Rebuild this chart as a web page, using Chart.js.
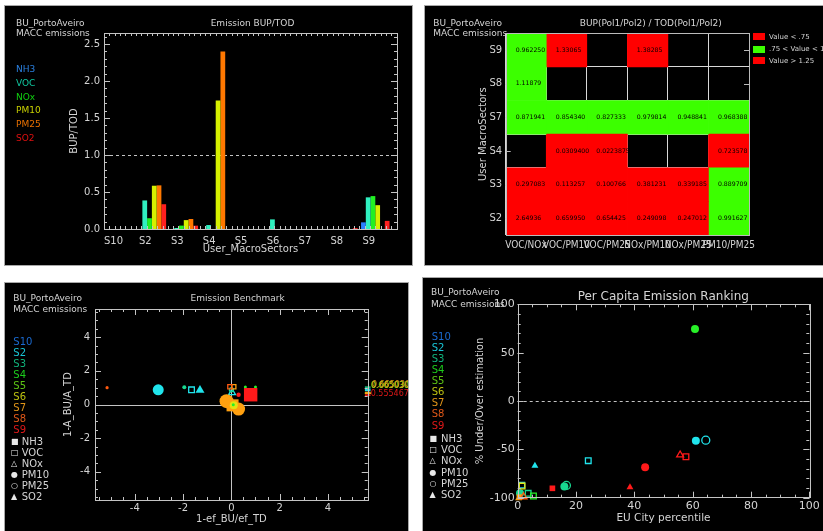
<!DOCTYPE html>
<html lang="en">
<head>
<meta charset="utf-8">
<title>BU_PortoAveiro - MACC emissions</title>
<script src="https://cdn.jsdelivr.net/npm/chart.js@4.4.1/dist/chart.umd.min.js"></script>
<style>
  html, body { margin: 0; padding: 0; background: #fff; }
  body { width: 823px; height: 531px; position: relative; overflow: hidden; font-family: "DejaVu Sans", sans-serif; }
  .panel { position: absolute; box-sizing: border-box; background: #000; border: 1px solid #a8a8a8; overflow: hidden; }
  .panel canvas { position: absolute; left: 0; top: 0; }
  .txt { position: absolute; white-space: nowrap; line-height: 1; color: #d4d4d4; font-size: 9px; transform: translateY(-50%); }
  .txt.c { transform: translate(-50%, -50%); }
  .box { position: absolute; }
</style>
</head>
<body>
<div class="panel" id="p1" style="left:4px;top:5px;width:409px;height:261px;"><canvas id="c1" width="407" height="259"></canvas></div>
<div class="panel" id="p2" style="left:424px;top:5px;width:410px;height:261px;"><canvas id="c2" width="398" height="259"></canvas></div>
<div class="panel" id="p3" style="left:4px;top:282px;width:405px;height:260px;"><canvas id="c3" width="403" height="248"></canvas></div>
<div class="panel" id="p4" style="left:422px;top:277px;width:410px;height:260px;"><canvas id="c4" width="400" height="253"></canvas></div>

<script>
// ---------- shared categories ----------
const sectors = ['S10', 'S2', 'S3', 'S4', 'S5', 'S6', 'S7', 'S8', 'S9'];
const pollutants = ['NH3', 'VOC', 'NOx', 'PM10', 'PM25', 'SO2'];

// ---------- Emission BUP/TOD (one value per sector) ----------
const bupTodNH3  = [0, 0,      0,      0,      0, 0,    0, 0,     0.090];
const bupTodVOC  = [0, 0.386,  0.0136, 0.0537, 0, 0.13, 0, 0,     0.428];
const bupTodNOx  = [0, 0.1457, 0.0458, 0,      0, 0,    0, 0,     0.445];
const bupTodPM10 = [0, 0.585,  0.120,  1.737,  0, 0,    0, 0,     0.322];
const bupTodPM25 = [0, 0.590,  0.135,  2.400,  0, 0,    0, 0,     0];
const bupTodSO2  = [0, 0.335,  0.045,  0,      0, 0,    0, 0.012, 0.110];
const bupTodTicks = [0, 0.5, 1.0, 1.5, 2.0, 2.5];

// ---------- BUP(Pol1/Pol2) / TOD(Pol1/Pol2) ----------
const ratioCols = ['VOC/NOx', 'VOC/PM10', 'VOC/PM25', 'NOx/PM10', 'NOx/PM25', 'PM10/PM25'];
const ratioRows = ['S9', 'S8', 'S7', 'S4', 'S3', 'S2'];
const ratioS9 = [0.962250, 1.33065, null, 1.38285, null, null];
const ratioS8 = [1.11879, null, null, null, null, null];
const ratioS7 = [0.871941, 0.854340, 0.827333, 0.979814, 0.948841, 0.968388];
const ratioS4 = [null, 0.0309400, 0.0223875, null, null, 0.723578];
const ratioS3 = [0.297083, 0.113257, 0.100766, 0.381231, 0.339185, 0.889709];
const ratioS2 = [2.64936, 0.659950, 0.654425, 0.249098, 0.247012, 0.991627];
const ratioLegend = ['Value < .75', '.75 < Value < 1.25', 'Value > 1.25'];

// ---------- Emission Benchmark ----------
const benchS2 = [{pol: 'PM10', x: -3.03, y: 0.87}, {pol: 'VOC', x: -1.65, y: 0.87}, {pol: 'SO2', x: -1.30, y: 0.85}, {pol: 'NOx', x: 0.03, y: 0.70}];
const benchS3 = [{pol: 'PM10', x: -1.95, y: 1.03}, {pol: 'PM25', x: 0.00, y: 0.88}];
const benchS4 = [{pol: 'PM10', x: 0.08, y: -0.02}, {pol: 'PM10', x: 0.58, y: 1.04}, {pol: 'PM10', x: 1.00, y: 1.04}];
const benchS6 = [{pol: 'PM10', x: 0.10, y: -0.05}];
const benchS7 = [{pol: 'PM10', x: -0.20, y: 0.20}, {pol: 'NH3', x: 0.05, y: -0.05}, {pol: 'PM10', x: 0.30, y: -0.27}, {pol: 'VOC', x: 0.10, y: 1.05}];
const benchS8 = [{pol: 'PM10', x: -5.15, y: 1.00}, {pol: 'VOC', x: -0.06, y: 1.05}];
const benchS9 = [{pol: 'NH3', x: 0.80, y: 0.58}, {pol: 'PM10', x: 0.30, y: 0.58}];
// points beyond the x range, pinned to the right border
const benchEdgeSector = ['S3', 'S2', 'S2', 'S8', 'S5', 'S6', 'S7', 'S9'];
const benchEdgeY = [1.03, 0.91, 0.83, 0.71, 0.665030, 0.665030, 0.665030, 0.555467];
const benchTicks = [-4, -2, 0, 2, 4];
const benchXMax = 5.65, benchYMax = 5.67;

// ---------- Per Capita Emission Ranking ----------
const rankS2 = [{pol: 'PM10', x: 61.1, y: -41.0}, {pol: 'PM25', x: 64.5, y: -40.5}, {pol: 'VOC', x: 24.2, y: -61.7}, {pol: 'SO2', x: 5.9, y: -66.9}, {pol: 'VOC', x: 1.4, y: -87.0}];
const rankS3 = [{pol: 'PM10', x: 16.0, y: -88.5}, {pol: 'PM25', x: 16.7, y: -87.3}, {pol: 'VOC', x: 3.6, y: -95.5}, {pol: 'PM10', x: 0.8, y: -95.5}];
const rankS4 = [{pol: 'PM10', x: 60.8, y: 74.5}, {pol: 'VOC', x: 5.4, y: -98.2}];
const rankS6 = [{pol: 'VOC', x: 1.5, y: -88.0}];
const rankS7 = [{pol: 'SO2', x: 0.3, y: -100.5}, {pol: 'NH3', x: 0.6, y: -99.5}];
const rankS8 = [{pol: 'NOx', x: 2.0, y: -99.0}];
const rankS9 = [{pol: 'NOx', x: 55.7, y: -55.8}, {pol: 'VOC', x: 57.7, y: -57.6}, {pol: 'PM10', x: 43.7, y: -68.6}, {pol: 'SO2', x: 38.5, y: -89.3}, {pol: 'NH3', x: 11.9, y: -90.3}];
const rankXTicks = [0, 20, 40, 60, 80, 100];
const rankYTicks = [-100, -50, 0, 50, 100];

// ---------- styling ----------
const INK = '#d4d4d4';
const FRAME = '#c4c4c4';
const NARROW = '"Liberation Sans Narrow", "DejaVu Sans Condensed", "DejaVu Sans", sans-serif';
const barColors = ['#2a7fff', '#30f0c0', '#22f022', '#d6f000', '#ff7800', '#ff2020'];
const polText = ['#2a80e0', '#10c8a0', '#10d010', '#c8d000', '#e87000', '#e01010'];
const sectorText = {S10: '#1a6ad0', S2: '#18c4d4', S3: '#10b27a', S4: '#1ccc1c', S5: '#5cc414', S6: '#bcc010', S7: '#e09418', S8: '#e05818', S9: '#e01818'};
const sectorMark = {S10: '#2070ff', S2: '#20e4ec', S3: '#18d890', S4: '#28f028', S5: '#70e010', S6: '#e4e410', S7: '#ffa010', S8: '#ff5a10', S9: '#ff1a1a'};
const polShape = {
  NH3: {style: 'rect', filled: true}, VOC: {style: 'rect', filled: false}, NOx: {style: 'triangle', filled: false},
  PM10: {style: 'circle', filled: true}, PM25: {style: 'circle', filled: false}, SO2: {style: 'triangle', filled: true}
};
const polGlyph = {NH3: '\u25A0', VOC: '\u25A1', NOx: '\u25B3', PM10: '\u25CF', PM25: '\u25CB', SO2: '\u25B2'};
const benchRadius = {S2: [5.5, 4, 5.2, 4], S3: [2, 2], S4: [1.5, 1.5, 1.5], S6: [4], S7: [7, 8.5, 6.5, 3], S8: [1.6, 3], S9: [9.5, 2.2]};
const rankRadius = 4;

Chart.defaults.font.family = '"DejaVu Sans", sans-serif';
Chart.defaults.color = INK;
Chart.defaults.animation = false;

const range = (a, b, s) => { const out = []; for (let v = a; v <= b + 1e-9; v += s) out.push(+v.toFixed(6)); return out; };

// ---------- plugins ----------
function drawIdlTicks(chart, o) {
  const {ctx, chartArea: a} = chart;
  const xs = chart.scales.x, ys = chart.scales.y;
  ctx.save();
  ctx.strokeStyle = o.color || FRAME;
  ctx.lineWidth = 1;
  ctx.beginPath();
  const put = (list, len, scale, horiz) => (list || []).forEach(v => {
    const p = Math.round(scale.getPixelForValue(v)) + 0.5;
    if (horiz) {
      ctx.moveTo(p, a.bottom); ctx.lineTo(p, a.bottom - len);
      ctx.moveTo(p, a.top); ctx.lineTo(p, a.top + len);
    } else {
      ctx.moveTo(a.left, p); ctx.lineTo(a.left + len, p);
      ctx.moveTo(a.right, p); ctx.lineTo(a.right - len, p);
    }
  });
  put(o.xMajor, o.majorLen || 6, xs, true);
  put(o.xMinor, o.minorLen || 3, xs, true);
  put(o.yMajor, o.majorLen || 6, ys, false);
  put(o.yMinor, o.minorLen || 3, ys, false);
  ctx.stroke();
  ctx.restore();
}

const idlFrame = {
  id: 'idlFrame',
  beforeDatasetsDraw(chart, args, o) {
    const {ctx, chartArea: a} = chart;
    const xs = chart.scales.x, ys = chart.scales.y;
    ctx.save();
    ctx.strokeStyle = o.color || FRAME;
    ctx.lineWidth = 1;
    (o.refLines || []).forEach(r => {
      ctx.setLineDash(r.dash || []);
      ctx.beginPath();
      if (r.axis === 'y') {
        const p = Math.round(ys.getPixelForValue(r.value)) + 0.5;
        ctx.moveTo(a.left, p); ctx.lineTo(a.right, p);
      } else {
        const p = Math.round(xs.getPixelForValue(r.value)) + 0.5;
        ctx.moveTo(p, a.top); ctx.lineTo(p, a.bottom);
      }
      ctx.stroke();
    });
    ctx.restore();
    if (o.ticksUnder) drawIdlTicks(chart, o);
  },
  afterDatasetsDraw(chart, args, o) {
    if (!o.ticksUnder) drawIdlTicks(chart, o);
    if (o.box === false) return;
    const {ctx, chartArea: a} = chart;
    ctx.save();
    ctx.strokeStyle = o.color || FRAME;
    ctx.lineWidth = 1;
    ctx.strokeRect(Math.round(a.left) + 0.5, Math.round(a.top) + 0.5, Math.round(a.right - a.left), Math.round(a.bottom - a.top));
    ctx.restore();
  }
};

// values written inside heatmap cells
const cellText = {
  id: 'cellText',
  afterDatasetsDraw(chart, args, o) {
    const ctx = chart.ctx;
    ctx.save();
    ctx.font = o.font;
    ctx.fillStyle = o.color;
    ctx.textAlign = 'left';
    ctx.textBaseline = 'middle';
    chart.data.datasets.forEach((ds, j) => {
      chart.getDatasetMeta(j).data.forEach((el, i) => {
        const v = ds.cellValues[i];
        if (v == null) return;
        ctx.fillText(v.toPrecision(6), Math.min(el.x, el.base) + o.inset, el.y);
      });
    });
    ctx.restore();
  }
};

// value labels for the points pinned to the right border
const edgeLabels = {
  id: 'edgeLabels',
  afterDatasetsDraw(chart, args, o) {
    const ctx = chart.ctx, a = chart.chartArea, ys = chart.scales.y;
    ctx.save();
    ctx.font = o.font;
    ctx.textAlign = 'left';
    ctx.textBaseline = 'middle';
    const items = o.items.map(it => ({...it, py: ys.getPixelForValue(it.y)})).sort((p, q) => q.py - p.py);
    let prev = null, shift = 0;
    items.forEach(it => {
      let ty = it.py - 1;
      if (prev !== null && Math.abs(it.y - prev.y) > 1e-9) ty = Math.min(ty, prev.ty - o.gap);
      else if (prev !== null) { ty = prev.ty; shift += 0.6; }
      ctx.fillStyle = it.color;
      ctx.fillText(it.y.toFixed(6), a.right + o.dx + shift, ty - shift * 0.5);
      it.ty = ty;
      prev = it;
    });
    ctx.restore();
  }
};

// ---------- text helpers ----------
function addText(panel, str, x, y, opt = {}) {
  const d = document.createElement('div');
  d.className = 'txt' + (opt.center ? ' c' : '');
  d.textContent = str;
  d.style.left = x + 'px';
  d.style.top = y + 'px';
  if (opt.size) d.style.fontSize = opt.size + 'px';
  if (opt.color) d.style.color = opt.color;
  document.getElementById(panel).appendChild(d);
}
function addBox(panel, x, y, w, h, color) {
  const d = document.createElement('div');
  d.className = 'box';
  Object.assign(d.style, {left: x + 'px', top: y + 'px', width: w + 'px', height: h + 'px', background: color});
  document.getElementById(panel).appendChild(d);
}
function header(panel, x, y1, y2) {
  addText(panel, 'BU_PortoAveiro', x, y1);
  addText(panel, 'MACC emissions', x, y2);
}

const baseOpts = (padding) => ({
  responsive: false,
  animation: false,
  devicePixelRatio: 1,
  layout: {padding},
  plugins: {legend: {display: false}, tooltip: {enabled: false}}
});

// ================= Panel 1: Emission BUP/TOD =================
header('p1', 11, 16.7, 27.3);
addText('p1', 'Emission BUP/TOD', 247.5, 16.7, {center: true});
pollutants.forEach((p, k) => addText('p1', p, 11, 62.7 + 13.9 * k, {color: polText[k]}));

const bupTod = [bupTodNH3, bupTodVOC, bupTodNOx, bupTodPM10, bupTodPM25, bupTodSO2];
new Chart(document.getElementById('c1'), {
  type: 'bar',
  data: {
    datasets: pollutants.map((p, k) => ({
      label: p,
      data: bupTod[k].map((v, i) => ({x: i, y: v})),
      backgroundColor: barColors[k],
      borderWidth: 0,
      categoryPercentage: 0.893,
      barPercentage: 1.0
    }))
  },
  options: {
    ...baseOpts({left: 0, top: 27, right: 15, bottom: 0}),
    plugins: {
      legend: {display: false}, tooltip: {enabled: false},
      idlFrame: {
        refLines: [{axis: 'y', value: 1.0, dash: [3, 3]}],
        yMajor: bupTodTicks, yMinor: range(0, 2.6, 0.1), majorLen: 6, minorLen: 3,
        xMinor: range(-0.5, 8.68, 1 / 6.0)
      }
    },
    scales: {
      x: {
        type: 'linear', offset: false, min: -0.5, max: 8.68,
        grid: {display: false, drawTicks: false}, border: {display: false},
        afterBuildTicks: s => { s.ticks = sectors.map((_, i) => ({value: i})); },
        ticks: {callback: v => sectors[v], autoSkip: false, maxRotation: 0, padding: 6, labelOffset: -6.5, font: {size: 10}, color: INK},
        title: {display: true, text: 'User_MacroSectors', font: {size: 10}, color: INK, padding: {top: 0, bottom: 9.7}},
        afterFit: s => { s.height = 36; }
      },
      y: {
        min: 0, max: 2.65,
        grid: {display: false, drawTicks: false}, border: {display: false},
        afterBuildTicks: s => { s.ticks = bupTodTicks.map(v => ({value: v})); },
        ticks: {callback: v => v.toFixed(1), padding: 4, font: {size: 10}, color: INK},
        title: {display: true, text: 'BUP/TOD', font: {size: 10}, color: INK, padding: {top: 63.7, bottom: 0}},
        afterFit: s => { s.width = 99; }
      }
    }
  },
  plugins: [idlFrame]
});

// ================= Panel 2: ratio heatmap =================
header('p2', 8.3, 17.3, 27.3);
addText('p2', 'BUP(Pol1/Pol2) / TOD(Pol1/Pol2)', 225.7, 16.7, {center: true});
const legendColors = ['#ff0000', '#3cff00', '#ff0000'];
ratioLegend.forEach((t, k) => {
  const top = [27.3, 39.7, 51.3][k];
  addBox('p2', 328.3, top, 11.7, 7.2, legendColors[k]);
  addText('p2', t, 344, top + 3.6, {size: 7});
});

const ratioData = [ratioS9, ratioS8, ratioS7, ratioS4, ratioS3, ratioS2];
const cellColor = v => (v < 0.75 || v > 1.25) ? '#ff0000' : '#3cff00';
new Chart(document.getElementById('c2'), {
  type: 'bar',
  data: {
    labels: ratioRows,
    datasets: ratioCols.map((c, j) => ({
      label: c,
      data: ratioData.map(r => r[j] == null ? null : [j, j + 1]),
      cellValues: ratioData.map(r => r[j]),
      backgroundColor: ratioData.map(r => r[j] == null ? 'rgba(0,0,0,0)' : cellColor(r[j])),
      borderWidth: 0,
      barPercentage: 1,
      categoryPercentage: 1,
      grouped: false
    }))
  },
  options: {
    ...baseOpts({left: 0, top: 27.3, right: 74, bottom: 0}),
    indexAxis: 'y',
    plugins: {
      legend: {display: false}, tooltip: {enabled: false},
      cellText: {font: '6.2px "DejaVu Sans", sans-serif', color: '#000', inset: 9.5},
      idlFrame: {ticksUnder: true, yMajor: ratioRows.map((_, i) => i), majorLen: 5, color: '#bbbbbb'}
    },
    scales: {
      x: {
        type: 'linear', min: 0, max: 6, z: 1,
        grid: {color: '#d8d8d8', drawTicks: false}, border: {display: false},
        afterBuildTicks: s => { s.ticks = range(0, 6, 1).map(v => ({value: v})); },
        ticks: {callback: v => ratioCols[v] || '', autoSkip: false, maxRotation: 0, padding: 4.7, labelOffset: 20.3, font: {family: NARROW, size: 10}, color: INK},
        afterFit: s => { s.height = 30; }
      },
      y: {
        type: 'category', z: 1,
        grid: {offset: true, color: '#d8d8d8', drawTicks: false}, border: {display: false},
        ticks: {padding: 3.5, font: {size: 10}, color: INK},
        title: {display: true, text: 'User MacroSectors', font: {size: 10}, color: INK, padding: {top: 52.3, bottom: 0}},
        afterFit: s => { s.width = 80.7; }
      }
    }
  },
  plugins: [idlFrame, cellText]
});

// ================= Panel 3: Emission Benchmark =================
header('p3', 8.3, 15.3, 26);
addText('p3', 'Emission Benchmark', 232.7, 15.3, {center: true});
sectors.forEach((s, i) => addText('p3', s, 8.3, 58.7 + 11 * i, {size: 10, color: sectorText[s]}));
pollutants.forEach((p, i) => {
  addText('p3', polGlyph[p], 6, 158.7 + 11 * i, {size: 8, color: '#e8e8e8'});
  addText('p3', p, 16.7, 158.7 + 11 * i, {size: 10, color: INK});
});

function markerSets(groups, radiusOf) {
  const sets = [];
  groups.forEach(([sec, pts]) => pts.forEach((p, i) => {
    const st = polShape[p.pol];
    const col = sectorMark[sec];
    sets.push({
      label: sec + ' ' + p.pol,
      data: [{x: p.x, y: p.y}],
      pointStyle: st.style,
      pointRadius: radiusOf(sec, i),
      backgroundColor: st.filled ? col : 'rgba(0,0,0,0)',
      borderColor: col,
      borderWidth: st.filled ? 0 : 1.3,
      clip: false
    });
  }));
  return sets.reverse();
}

const benchGroups = [['S2', benchS2], ['S3', benchS3], ['S7', benchS7], ['S6', benchS6], ['S4', benchS4], ['S8', benchS8], ['S9', benchS9]];
const benchSets = markerSets(benchGroups, (sec, i) => benchRadius[sec][i]);
benchSets.push({
  label: 'pinned',
  data: benchEdgeY.map(y => ({x: benchXMax, y})),
  pointStyle: 'line',
  pointRadius: 2.8,
  borderColor: benchEdgeSector.map(s => sectorMark[s]),
  borderWidth: 1.5,
  clip: false
});

new Chart(document.getElementById('c3'), {
  type: 'scatter',
  data: {datasets: benchSets},
  options: {
    ...baseOpts({left: 0, top: 26, right: 40.3, bottom: 0}),
    plugins: {
      legend: {display: false}, tooltip: {enabled: false},
      idlFrame: {
        refLines: [{axis: 'x', value: 0}, {axis: 'y', value: 0}],
        xMajor: benchTicks, xMinor: range(-5.5, 5.5, 0.5), yMajor: benchTicks, yMinor: range(-5.5, 5.5, 0.5), majorLen: 6, minorLen: 3
      },
      edgeLabels: {
        font: '8px "DejaVu Sans", sans-serif', dx: 3, gap: 8.3,
        items: benchEdgeY.map((y, i) => ({y, color: sectorText[benchEdgeSector[i]]})).filter((it, i) => i >= 4)
      }
    },
    scales: {
      x: {
        type: 'linear', min: -benchXMax, max: benchXMax,
        grid: {display: false, drawTicks: false}, border: {display: false},
        afterBuildTicks: s => { s.ticks = benchTicks.map(v => ({value: v})); },
        ticks: {padding: 2.3, font: {size: 10}, color: INK},
        title: {display: true, text: '1-ef_BU/ef_TD', font: {size: 10}, color: INK, padding: {top: 0, bottom: 5.7}},
        afterFit: s => { s.height = 31; }
      },
      y: {
        type: 'linear', min: -benchYMax, max: benchYMax,
        grid: {display: false, drawTicks: false}, border: {display: false},
        afterBuildTicks: s => { s.ticks = benchTicks.map(v => ({value: v})); },
        ticks: {padding: 5, font: {size: 10}, color: INK},
        title: {display: true, text: '1-A_BU/A_TD', font: {size: 10}, color: INK, padding: {top: 57.3, bottom: 0}},
        afterFit: s => { s.width = 90; }
      }
    }
  },
  plugins: [idlFrame, edgeLabels]
});

// ================= Panel 4: Per Capita Emission Ranking =================
header('p4', 8, 13.7, 26.3);
addText('p4', 'Per Capita Emission Ranking', 240.3, 17.7, {center: true, size: 12});
sectors.forEach((s, i) => addText('p4', s, 8.7, 58.7 + 11.1 * i, {size: 10, color: sectorText[s]}));
pollutants.forEach((p, i) => {
  addText('p4', polGlyph[p], 6.5, 161 + 11.2 * i, {size: 8, color: '#e8e8e8'});
  addText('p4', p, 18, 161 + 11.2 * i, {size: 10, color: INK});
});

const rankGroups = [['S2', rankS2], ['S3', rankS3], ['S4', rankS4], ['S6', rankS6], ['S7', rankS7], ['S8', rankS8], ['S9', rankS9]];
new Chart(document.getElementById('c4'), {
  type: 'scatter',
  data: {datasets: markerSets(rankGroups, () => rankRadius)},
  options: {
    ...baseOpts({left: 0, top: 26.3, right: 13.7, bottom: 0}),
    plugins: {
      legend: {display: false}, tooltip: {enabled: false},
      idlFrame: {
        refLines: [{axis: 'y', value: 0, dash: [3, 3]}],
        xMajor: rankXTicks, xMinor: range(0, 100, 5), yMajor: rankYTicks, yMinor: range(-100, 100, 10), majorLen: 6, minorLen: 3
      }
    },
    scales: {
      x: {
        type: 'linear', min: 0, max: 100,
        grid: {display: false, drawTicks: false}, border: {display: false},
        afterBuildTicks: s => { s.ticks = rankXTicks.map(v => ({value: v})); },
        ticks: {padding: 1.7, font: {size: 11}, color: INK},
        title: {display: true, text: 'EU City percentile', font: {size: 10.5}, color: INK, padding: {top: 0, bottom: 6.7}},
        afterFit: s => { s.height = 33.3; }
      },
      y: {
        type: 'linear', min: -100, max: 100,
        grid: {display: false, drawTicks: false}, border: {display: false},
        afterBuildTicks: s => { s.ticks = rankYTicks.map(v => ({value: v})); },
        ticks: {padding: 3, font: {size: 11}, color: INK},
        title: {display: true, text: '% Under/Over estimation', font: {size: 10}, color: INK, padding: {top: 51, bottom: 0}},
        afterFit: s => { s.width = 94.7; }
      }
    }
  },
  plugins: [idlFrame]
});
</script>
</body>
</html>
